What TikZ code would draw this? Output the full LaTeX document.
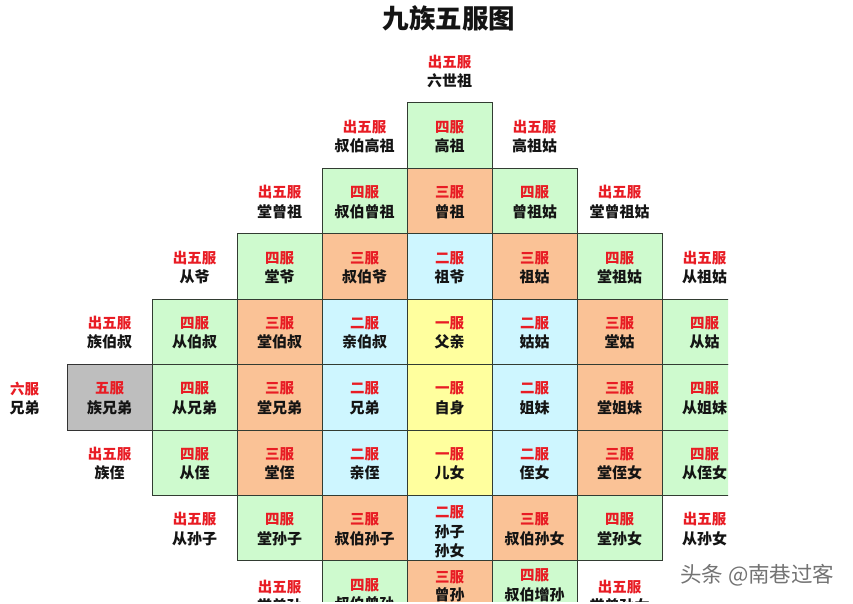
\documentclass[tikz,border=0pt]{standalone}
\usepackage{fontspec}
\setmainfont{Noto Sans CJK SC}
\definecolor{cgreen}{RGB}{206,250,206}
\definecolor{corange}{RGB}{250,194,150}
\definecolor{cblue}{RGB}{206,246,255}
\definecolor{cyellow}{RGB}{255,255,158}
\definecolor{cgrey}{RGB}{190,190,190}
\definecolor{cred}{RGB}{232,28,36}
\definecolor{cline}{RGB}{50,60,50}
\definecolor{ctext}{RGB}{20,20,20}
\begin{document}
\begin{tikzpicture}[x=1pt,y=-1pt,
  box/.style={line width=1pt, minimum width=85pt, minimum height=65.4pt, inner sep=0pt},
  fu/.style={text=cred, font=\bfseries\fontsize{14.5}{14.5}\selectfont, inner sep=0pt},
  nm/.style={text=ctext, font=\bfseries\fontsize{15}{15}\selectfont, inner sep=0pt},
  wm/.style={text=black!55, font=\fontsize{21.5}{21.5}\selectfont, inner sep=0pt}]
\useasboundingbox (0,0) rectangle (853,604);
\node[font=\bfseries\fontsize{26.5}{26.5}\selectfont, text=ctext] (title) at (449,18) {九族五服图};
\begin{scope}
\clip (0,0) rectangle (728,601);
\foreach \c/\r/\f/\d/\a/\b [count=\i] in {
  4/-1/none/none/出五服/六世祖,
  3/0/none/none/出五服/叔伯高祖,
  4/0/cgreen/cline/四服/高祖,
  5/0/none/none/出五服/高祖姑,
  2/1/none/none/出五服/堂曾祖,
  3/1/cgreen/cline/四服/叔伯曾祖,
  4/1/corange/cline/三服/曾祖,
  5/1/cgreen/cline/四服/曾祖姑,
  6/1/none/none/出五服/堂曾祖姑,
  1/2/none/none/出五服/从爷,
  2/2/cgreen/cline/四服/堂爷,
  3/2/corange/cline/三服/叔伯爷,
  4/2/cblue/cline/二服/祖爷,
  5/2/corange/cline/三服/祖姑,
  6/2/cgreen/cline/四服/堂祖姑,
  7/2/none/none/出五服/从祖姑,
  0/3/none/none/出五服/族伯叔,
  1/3/cgreen/cline/四服/从伯叔,
  2/3/corange/cline/三服/堂伯叔,
  3/3/cblue/cline/二服/亲伯叔,
  4/3/cyellow/cline/一服/父亲,
  5/3/cblue/cline/二服/姑姑,
  6/3/corange/cline/三服/堂姑,
  7/3/cgreen/cline/四服/从姑,
  -1/4/none/none/六服/兄弟,
  0/4/cgrey/black!80/五服/族兄弟,
  1/4/cgreen/cline/四服/从兄弟,
  2/4/corange/cline/三服/堂兄弟,
  3/4/cblue/cline/二服/兄弟,
  4/4/cyellow/cline/一服/自身,
  5/4/cblue/cline/二服/姐妹,
  6/4/corange/cline/三服/堂姐妹,
  7/4/cgreen/cline/四服/从姐妹,
  0/5/none/none/出五服/族侄,
  1/5/cgreen/cline/四服/从侄,
  2/5/corange/cline/三服/堂侄,
  3/5/cblue/cline/二服/亲侄,
  4/5/cyellow/cline/一服/儿女,
  5/5/cblue/cline/二服/侄女,
  6/5/corange/cline/三服/堂侄女,
  7/5/cgreen/cline/四服/从侄女,
  1/6/none/none/出五服/从孙子,
  2/6/cgreen/cline/四服/堂孙子,
  3/6/corange/cline/三服/叔伯孙子,
  5/6/corange/cline/三服/叔伯孙女,
  6/6/cgreen/cline/四服/堂孙女,
  7/6/none/none/出五服/从孙女}{
  \pgfmathsetmacro\cx{109.5+85*\c}
  \pgfmathsetmacro\ty{103+65.4*\r}
  \node[box, fill=\f, draw=\d] (cell\i) at (\cx,\ty+32.7) {};
  \node[fu] (fu\i) at (\cx,\ty+24) {\a};
  \node[nm] (nm\i) at (\cx,\ty+43) {\b};
}
% grandchildren cell (three lines)
\node[box, fill=cblue, draw=cline] (cellsun) at (449.5,495.4+32.7) {};
\node[fu] (fusun) at (449.5,512) {二服};
\node[nm] (nmsun1) at (449.5,532) {孙子};
\node[nm] (nmsun2) at (449.5,551) {孙女};
% bottom row (cut off at the picture's lower edge, as in the reference)
\node[box, fill=cgreen, draw=cline] (cellb3) at (364.5,560.8+32.7) {};
\node[box, fill=corange, draw=cline] (cellb4) at (449.5,560.8+32.7) {};
\node[box, fill=cgreen, draw=cline] (cellb5) at (534.5,560.8+32.7) {};
\node[fu] (fub2) at (279.5,587) {出五服};
\node[nm] (nmb2) at (279.5,606) {堂曾孙};
\node[fu] (fub3) at (364.5,585) {四服};
\node[nm] (nmb3) at (364.5,604) {叔伯曾孙};
\node[fu] (fub4) at (449.5,577) {三服};
\node[nm] (nmb4) at (449.5,595) {曾孙};
\node[fu] (fub5) at (534.5,575) {四服};
\node[nm] (nmb5) at (534.5,595) {叔伯增孙};
\node[fu] (fub6) at (619.5,587) {出五服};
\node[nm] (nmb6) at (619.5,606) {堂曾孙女};
\end{scope}
\node[wm, anchor=west] (mark) at (680,575) {头条 @南巷过客};
\end{tikzpicture}
\end{document}
